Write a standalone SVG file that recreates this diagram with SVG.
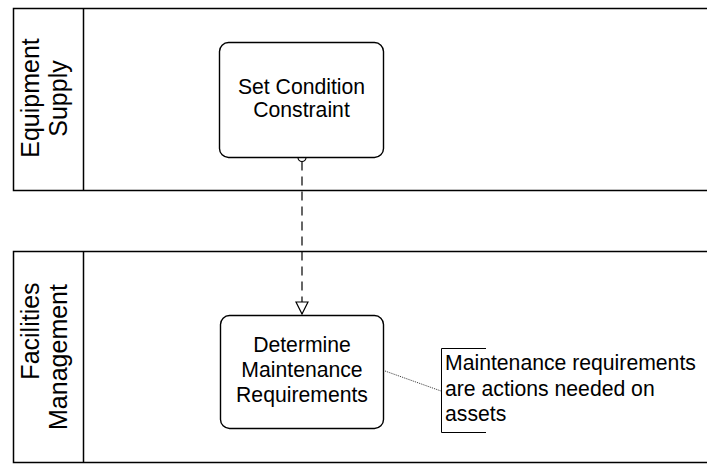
<svg xmlns="http://www.w3.org/2000/svg" width="707" height="464" viewBox="0 0 707 464">
<style>
.lane{fill:none;stroke:#000;stroke-width:1.5}
.box{fill:#fff;stroke:#000;stroke-width:1.4}
text{font-family:"Liberation Sans",Arial,sans-serif;font-size:21.2px;fill:#000}
.c{text-anchor:middle}
.hd{font-size:25px}
</style>
<defs>
<marker id="tri" viewBox="0 0 14 14" refX="13" refY="7" markerWidth="14" markerHeight="14" markerUnits="userSpaceOnUse" orient="auto">
<path d="M1,1 L13,7 L1,13 Z" fill="#fff" stroke="#000" stroke-width="1.2"/>
</marker>
</defs>
<g id="lane-equipment-supply">
<path class="lane" d="M714,8.5 H13.5 V190.5 H714 M83.5,8.5 V190.5"/>
<text class="c hd" transform="translate(39,98) rotate(-90)">Equipment</text>
<text class="c hd" transform="translate(67,98.5) rotate(-90)">Supply</text>
</g>
<g id="lane-facilities-management">
<path class="lane" d="M714,251.5 H13.5 V462.5 H714 M83.5,251.5 V462.5"/>
<text class="c hd" transform="translate(39,331) rotate(-90)">Facilities</text>
<text class="c hd" transform="translate(67,357) rotate(-90)">Management</text>
</g>
<g id="connectors">
<line x1="302" y1="161.5" x2="302" y2="314" stroke="#000" stroke-width="1.2" stroke-dasharray="9,6" marker-end="url(#tri)"/>
<circle cx="302" cy="157.5" r="4" fill="#fff" stroke="#000" stroke-width="1.2"/>
<line x1="385" y1="371" x2="441" y2="391" stroke="#000" stroke-width="0.8" stroke-dasharray="1,1"/>
</g>
<g id="node-set-condition-constraint">
<rect class="box" x="219.5" y="42.5" width="164" height="115" rx="9"/>
<text class="c" x="301.5" y="93.5">Set Condition</text>
<text class="c" x="301.5" y="117">Constraint</text>
</g>
<g id="node-determine-maintenance-requirements">
<rect class="box" x="220.5" y="315.5" width="163" height="113" rx="9"/>
<text class="c" x="302" y="352">Determine</text>
<text class="c" x="302" y="377">Maintenance</text>
<text class="c" x="302" y="402">Requirements</text>
</g>
<g id="annotation">
<path d="M486,348.5 H441.5 V432.5 H486" fill="none" stroke="#000" stroke-width="1"/>
<text x="445" y="370">Maintenance requirements</text>
<text x="445" y="396">are actions needed on</text>
<text x="445" y="421">assets</text>
</g>
</svg>
